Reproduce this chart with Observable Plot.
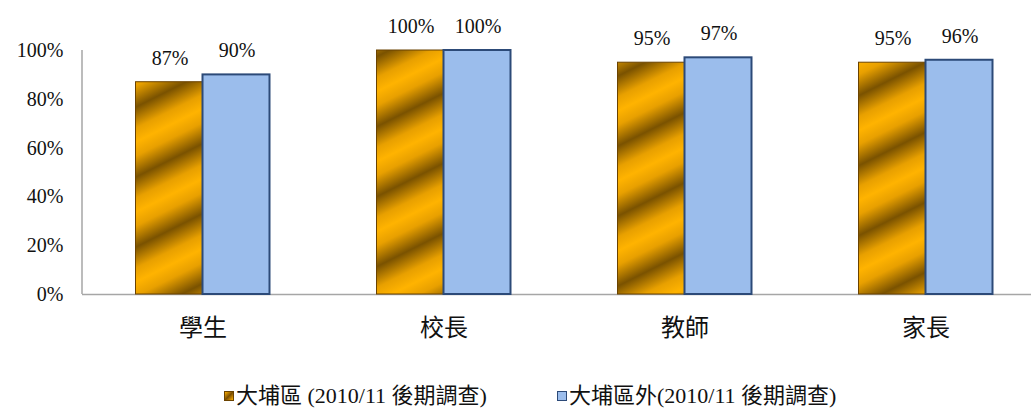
<!DOCTYPE html>
<html>
<head>
<meta charset="utf-8">
<script src="https://cdn.jsdelivr.net/npm/d3@7"></script>
<script src="https://cdn.jsdelivr.net/npm/@observablehq/plot@0.6"></script>
<style>
  body { margin: 0; background: #fff; font-family: "Liberation Serif", "Noto Sans CJK TC", serif; }
  #chart svg { display: block; overflow: visible; }
  #chart svg g[aria-label="y-axis tick label"] text { font-size: 20px; font-family: "Liberation Serif", serif; }
  #chart svg g[aria-label="x-axis tick label"] text { font-size: 24px; font-family: "Noto Sans CJK TC", serif; }
  .legend { position: relative; height: 70px; font-size: 22px; line-height: 24px; color: #111; }
  .legend .item { position: absolute; top: 39px; height: 24px; display: flex; align-items: center; white-space: nowrap; }
  .sw { width: 10px; height: 10px; margin-right: 2px; box-sizing: border-box; }
</style>
</head>
<body>
<div id="chart"></div>
<div class="legend" id="legend"></div>
<script>
const categories = ["學生", "校長", "教師", "家長"];
const seriesNames = ["大埔區 (2010/11 後期調查)", "大埔區外(2010/11 後期調查)"];
const taipo = [0.87, 1.00, 0.95, 0.95];
const outside = [0.90, 1.00, 0.97, 0.96];
const yTicks = [0, 0.2, 0.4, 0.6, 0.8, 1.0];

const rows = [];
categories.forEach((c, i) => {
  rows.push({cat: c, series: seriesNames[0], value: taipo[i], idx: 0});
  rows.push({cat: c, series: seriesNames[1], value: outside[i], idx: 1});
});
const r0 = rows.filter(d => d.idx === 0);
const r1 = rows.filter(d => d.idx === 1);

const serif = "Liberation Serif, Times New Roman, serif";

const plot = Plot.plot({
  width: 1031,
  height: 345,
  marginTop: 50,
  marginBottom: 51,
  marginLeft: 82,
  marginRight: 0,
  style: {fontFamily: serif, background: "transparent", overflow: "visible"},
  x: {domain: categories, range: [82, 1046], padding: 0, label: null},
  y: {domain: [0, 1], ticks: yTicks, tickFormat: d3.format(".0%"), label: null},
  marks: [
    Plot.axisY({ticks: yTicks, tickFormat: d3.format(".0%"), tickSize: 0, tickPadding: 19, fontSize: 20, fill: "#111", label: null}),
    Plot.axisX({tickSize: 0, tickPadding: 24, fontSize: 24, fill: "#111", label: null}),
    Plot.ruleY([0], {stroke: "#a6a6a6", strokeWidth: 1.5}),
    Plot.barY(r0, {x: "cat", y: "value", insetLeft: 53.5, insetRight: 120.5, fill: "url(#goldStripe)", stroke: "#6b4300", strokeWidth: 1}),
    Plot.barY(r1, {x: "cat", y: "value", insetLeft: 120.5, insetRight: 53.5, fill: "#9bbdec", stroke: "#2c4a78", strokeWidth: 2}),
    Plot.text(r0, {x: "cat", y: "value", dx: -33, dy: -24, text: d => Math.round(d.value * 100) + "%", fontSize: 20, fill: "#111", fontFamily: serif}),
    Plot.text(r1, {x: "cat", y: "value", dx: 34, dy: -24, text: d => Math.round(d.value * 100) + "%", fontSize: 20, fill: "#111", fontFamily: serif})
  ]
});

// defs for gradient fill
const svg = d3.select(plot);
const defs = svg.insert("defs", ":first-child");
const g = defs.append("linearGradient")
  .attr("id", "goldStripe")
  .attr("gradientUnits", "userSpaceOnUse")
  .attr("x1", 0).attr("y1", 0).attr("x2", 14).attr("y2", 28)
  .attr("spreadMethod", "reflect");
g.append("stop").attr("offset", "0%").attr("stop-color", "#ffb300");
g.append("stop").attr("offset", "40%").attr("stop-color", "#e8a000");
g.append("stop").attr("offset", "100%").attr("stop-color", "#7a5200");

// vertical axis line
const ys = plot.scale("y");
svg.append("line")
  .attr("x1", 82).attr("x2", 82)
  .attr("y1", ys.range[0]).attr("y2", ys.range[1])
  .attr("stroke", "#a6a6a6").attr("stroke-width", 1.5);

document.getElementById("chart").appendChild(plot);

// legend
const legend = d3.select("#legend");
const lx = [224, 557];
seriesNames.forEach((name, i) => {
  const it = legend.append("div").attr("class", "item").style("left", lx[i] + "px");
  const sw = it.append("div").attr("class", "sw");
  if (i === 0) sw.style("background", "linear-gradient(135deg, #ffb000 0%, #7a4d00 50%, #ffb000 100%)").style("border", "1px solid #6b4300");
  else sw.style("background", "#9bbdec").style("border", "1.5px solid #2c4a78");
  it.append("span").text(name);
});
</script>
</body>
</html>
